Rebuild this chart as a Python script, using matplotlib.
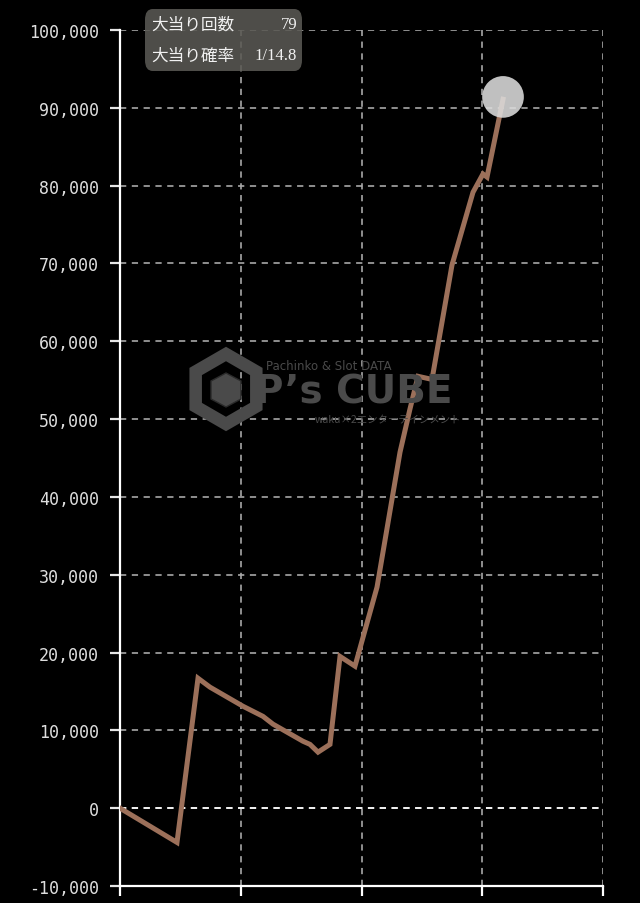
import matplotlib
matplotlib.use("Agg")
import matplotlib.pyplot as plt
from matplotlib.ticker import FuncFormatter, MultipleLocator
from matplotlib.patches import FancyBboxPatch, Polygon
import numpy as np

plt.rcParams['lines.scale_dashes'] = False

# data (games played, balance)
games = [0, 944, 1292, 1491, 2037, 2368, 2534, 3031, 3147, 3280, 3478, 3644,
         3892, 4257, 4638, 4803, 4936, 5168, 5499, 5847, 6012, 6079, 6344]
balance = [0, -4400, 16700, 15550, 13100, 11800, 10800, 8600, 8200, 7200, 8200, 19500,
           18250, 28400, 45750, 51300, 55500, 55100, 69800, 79150, 81500, 81100, 91100]
info_labels = ["大当り回数", "大当り確率"]
info_values = ["79", "1/14.8"]

W, H = 640, 904
fig = plt.figure(figsize=(6.4, 9.04), dpi=100, facecolor='black')
ax = fig.add_axes([120 / W, 1 - 887 / H, (603 - 120) / W, (887 - 31) / H])
ax.set_facecolor('black')

ax.set_xlim(0, 8000)
ax.set_ylim(-10000, 100000)
ax.xaxis.set_major_locator(MultipleLocator(2000))
ax.yaxis.set_major_locator(MultipleLocator(10000))
ax.yaxis.set_major_formatter(FuncFormatter(lambda v, p: f"{int(v):,}"))
ax.set_xticklabels([])

for s in ['top', 'right']:
    ax.spines[s].set_visible(False)
for s in ['left', 'bottom']:
    ax.spines[s].set_color('white')
    ax.spines[s].set_linewidth(1.6)

ax.tick_params(axis='y', colors='#e6e6e6', length=7, width=1.6, pad=8, labelsize=12)
ax.tick_params(axis='x', colors='white', length=7, width=1.6)
for lab in ax.get_yticklabels():
    lab.set_fontfamily('DejaVu Sans Mono')
    lab.set_color('#dedede')

ax.grid(True, color='#a8a8a8', linewidth=1.2, linestyle=(0, (4.5, 4)), zorder=1)
ax.axhline(0, color='#f0f0f0', linewidth=1.4, linestyle=(0, (4.5, 4)), zorder=1.5)
ax.set_axisbelow(True)

# watermark (figure coordinates)
def fx(x): return x / W
def fy(y): return 1 - y / H
wm = '#4a4a4a'
cx, cy, r = 226, 390, 35
hexpts = [(fx(cx + r * np.cos(np.radians(a))), fy(cy + r * np.sin(np.radians(a))))
          for a in [30, 90, 150, 210, 270, 330]]
fig.patches.append(Polygon(hexpts, closed=True, fill=False, edgecolor=wm, linewidth=9,
                           transform=fig.transFigure, zorder=0.5))
cube = [(fx(cx), fy(cy - 16)), (fx(cx + 15), fy(cy - 8)), (fx(cx + 15), fy(cy + 10)),
        (fx(cx), fy(cy + 18)), (fx(cx - 15), fy(cy + 10)), (fx(cx - 15), fy(cy - 8))]
fig.patches.append(Polygon(cube, closed=True, facecolor=wm, edgecolor='#2a2a2a', linewidth=1,
                           transform=fig.transFigure, zorder=0.5))
fig.text(fx(266), fy(366), "Pachinko & Slot DATA", color=wm, fontsize=8.5,
         family='DejaVu Sans Condensed', va='center', ha='left', zorder=0.5)
fig.text(fx(255), fy(393), "P’s CUBE", color=wm, fontsize=28, fontweight='bold',
         family='DejaVu Sans', va='center', ha='left', zorder=0.5)
fig.text(fx(315), fy(420), "waku×2エンターテインメント", color=wm, fontsize=7.5,
         family=['Noto Sans CJK JP', 'DejaVu Sans'], va='center', ha='left', zorder=0.5)

ax.plot(games, balance, color='#9c705a', linewidth=3.6, solid_joinstyle='miter', zorder=3)
ax.scatter([games[-1]], [balance[-1] + 300], s=900, color='#dcdcdc', alpha=0.88,
           edgecolors='none', zorder=4)

# info box
box = FancyBboxPatch((fx(145), fy(72)), (302 - 145) / W, (72 - 10) / H,
                     boxstyle="round,pad=0,rounding_size=0.012",
                     transform=fig.transFigure, facecolor='#5a5954', alpha=0.88,
                     edgecolor='none', zorder=5)
fig.patches.append(box)
for i, (lab, val) in enumerate(zip(info_labels, info_values)):
    yy = fy(25 + i * 31)
    fig.text(fx(151), yy, lab, color='#f2f2f2', fontsize=12,
             family=['Noto Sans CJK JP', 'DejaVu Sans'], va='center', ha='left', zorder=6)
    fig.text(fx(297), yy, val, color='#f2f2f2', fontsize=12,
             family=['Liberation Serif', 'DejaVu Serif'], va='center', ha='right', zorder=6)

fig.savefig('out.png', dpi=100, facecolor='black')
